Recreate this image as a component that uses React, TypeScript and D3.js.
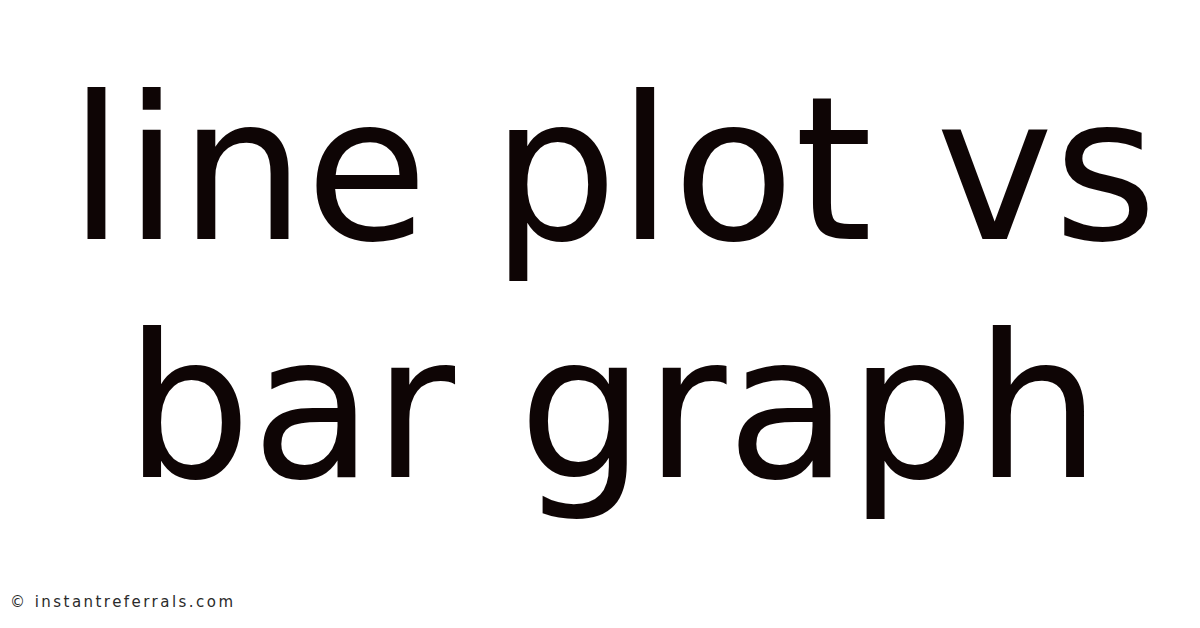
import { useEffect, useRef } from 'react'
import * as d3 from 'd3'

const titleLines = ['line plot vs', 'bar graph']
const watermark = '© instantreferrals.com'

const WIDTH = 1200
const HEIGHT = 628

export default function App() {
  const svgRef = useRef<SVGSVGElement | null>(null)

  useEffect(() => {
    const svgElement = svgRef.current
    if (!svgElement) return

    const svg = d3.select(svgElement)
    svg.selectAll('*').remove()
    svg.attr('viewBox', `0 0 ${WIDTH} ${HEIGHT}`)

    svg.append('rect').attr('width', WIDTH).attr('height', HEIGHT).attr('fill', '#ffffff')

    // baselines of the two title lines
    const yScale = d3.scalePoint<string>().domain(titleLines).range([239, 477])

    svg
      .append('g')
      .selectAll('text')
      .data(titleLines)
      .join('text')
      .attr('x', 613)
      .attr('y', (d) => yScale(d) ?? 0)
      .attr('text-anchor', 'middle')
      .attr('font-family', '"DejaVu Sans", sans-serif')
      .attr('font-size', 199)
      .attr('fill', '#0e0505')
      .text((d) => d)

    // small credit line, spread out to the reference width
    svg
      .append('text')
      .attr('x', 10)
      .attr('y', 607)
      .attr('font-family', '"DejaVu Sans", sans-serif')
      .attr('font-size', 15)
      .attr('textLength', 223)
      .attr('lengthAdjust', 'spacing')
      .attr('fill', '#2a2a2a')
      .text(watermark)
  }, [])

  return (
    <svg
      ref={svgRef}
      width={WIDTH}
      height={HEIGHT}
      style={{ position: 'absolute', left: 0, top: 0, display: 'block' }}
    />
  )
}
